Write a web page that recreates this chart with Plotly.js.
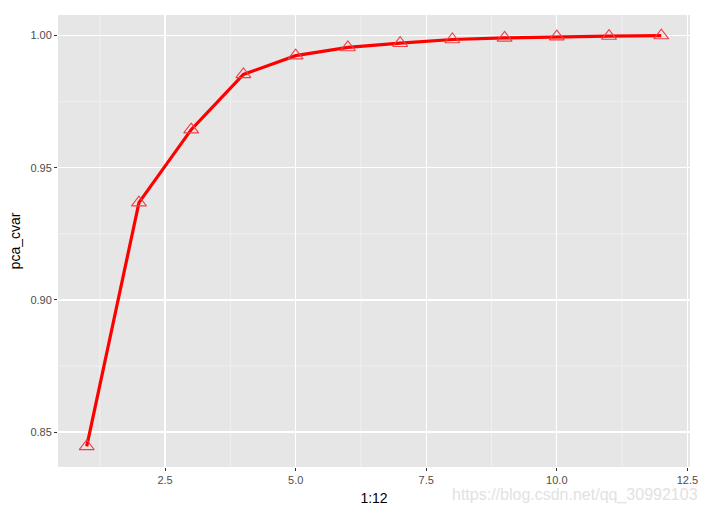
<!DOCTYPE html>
<html><head><meta charset="utf-8">
<script src="https://cdn.plot.ly/plotly-3.0.1.min.js"></script>
<style>html,body{margin:0;padding:0;background:#fff}</style>
</head><body>
<div id="chart" style="width:710px;height:514px"></div>
<script>
const components = [1,2,3,4,5,6,7,8,9,10,11,12];
const pca_cvar = [0.8446,0.9368,0.9644,0.9853,0.9924,0.9955,0.9971,0.9985,0.9991,0.9996,0.9998,1.0000];
const xTickVals = [2.5,5.0,7.5,10.0,12.5];
const xTickText = ['2.5','5.0','7.5','10.0','12.5'];
const yTickVals = [0.85,0.90,0.95,1.00];
const yTickText = ['0.85','0.90','0.95','1.00'];
const xMinor = [1.25,3.75,6.25,8.75,11.25];
const yMinor = [0.875,0.925,0.975];

const shapes = [];
xMinor.forEach(v=>shapes.push({type:'line',xref:'x',yref:'paper',x0:v,x1:v,y0:0,y1:1,line:{color:'#F2F2F2',width:0.8},layer:'below'}));
yMinor.forEach(v=>shapes.push({type:'line',xref:'paper',yref:'y',x0:0,x1:1,y0:v,y1:v,line:{color:'#F2F2F2',width:0.8},layer:'below'}));

const data = [
  {x:components,y:pca_cvar,type:'scatter',mode:'lines',line:{color:'#FF0000',width:3.2},hoverinfo:'skip'},
  {x:components,y:pca_cvar,type:'scatter',mode:'markers',marker:{symbol:'triangle-up-open',size:13,color:'#EE4048',line:{width:1.1,color:'#EE4048'}}}
];
const layout = {
  width:710,height:514,showlegend:false,
  paper_bgcolor:'#FFFFFF',plot_bgcolor:'#E6E6E6',
  margin:{l:58,r:20,t:15,b:47},
  font:{family:'Liberation Sans, Arial, sans-serif'},
  xaxis:{range:[0.45,12.55],tickvals:xTickVals,ticktext:xTickText,showgrid:true,gridcolor:'#FFFFFF',gridwidth:1.3,zeroline:false,
    ticks:'outside',ticklen:3,tickwidth:1,tickcolor:'#333333',tickfont:{size:11,color:'#4D4D4D'},
    title:{text:'1:12',font:{size:14,color:'#000000'},standoff:7},showline:false},
  yaxis:{range:[0.8368,1.00777],tickvals:yTickVals,ticktext:yTickText,showgrid:true,gridcolor:'#FFFFFF',gridwidth:1.3,zeroline:false,
    ticks:'outside',ticklen:3,tickwidth:1,tickcolor:'#333333',tickfont:{size:11,color:'#4D4D4D'},
    title:{text:'pca_cvar',font:{size:14,color:'#000000'},standoff:6},showline:false},
  shapes:shapes,
  annotations:[{xref:'paper',yref:'paper',x:1.016,y:-0.062,xanchor:'right',yanchor:'middle',showarrow:false,
    text:'https://blog.csdn.net/qq_30992103',font:{size:16,color:'#E2E2E2'}}]
};
Plotly.newPlot('chart',data,layout,{displayModeBar:false,staticPlot:true});
</script>
</body></html>
